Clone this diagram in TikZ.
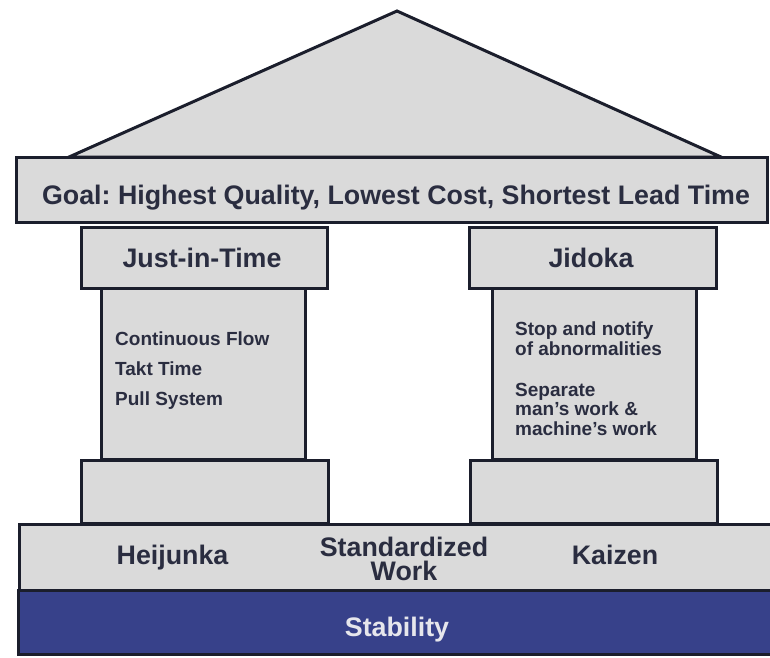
\documentclass[tikz,border=0pt]{standalone}
\usepackage{fontspec}
\setmainfont{Liberation Sans}
\frenchspacing
\definecolor{boxfill}{HTML}{DADADA}
\definecolor{edge}{HTML}{1B1E2C}
\definecolor{stab}{HTML}{37418A}
\definecolor{ink}{HTML}{2A2D40}
\definecolor{stabtext}{HTML}{E6E6EC}
\begin{document}
\begin{tikzpicture}[x=1pt,y=-1pt,
  part/.style={draw=edge, fill=boxfill, line width=3pt, inner sep=0pt, outer sep=0pt},
  big/.style={font=\bfseries\fontsize{26.8}{24}\selectfont, text=ink, inner sep=0pt, anchor=base},
  small/.style={font=\bfseries\fontsize{19}{19.5}\selectfont, text=ink, inner sep=0pt, align=left, anchor=base west}]
\useasboundingbox (0,0) rectangle (770,657);
\clip (0,0) rectangle (770,657);
% roof
\coordinate (roofL) at (69,157);
\coordinate (apex) at (397,11);
\coordinate (roofR) at (721,157);
\draw[part, line join=miter] (roofL) -- (apex) -- (roofR) -- cycle;
% goal bar
\node[part, minimum width=750.5pt, minimum height=65pt] (goal) at (391.75,189.5) {};
% shafts
\node[part, minimum width=203.5pt, minimum height=171pt] (lshaft) at (203.25,373.5) {};
\node[part, minimum width=204pt, minimum height=171pt] (rshaft) at (594,373.5) {};
% capitals
\node[part, minimum width=245.5pt, minimum height=60.5pt] (jitcap) at (204.25,257.75) {};
\node[part, minimum width=247.5pt, minimum height=60.5pt] (jidcap) at (592.75,257.75) {};
% lower bar and stability
\node[part, minimum width=760.5pt, minimum height=66pt] (lower) at (399.75,557) {};
\node[part, fill=stab, minimum width=762pt, minimum height=64pt] (stab) at (399,622) {};
% bases
\node[part, minimum width=247pt, minimum height=63pt] (lbase) at (205,491.5) {};
\node[part, minimum width=247.5pt, minimum height=63pt] (rbase) at (593.75,491.5) {};
% texts
\node[big] (goalt) at (396,204) {Goal: Highest Quality, Lowest Cost, Shortest Lead Time};
\node[big] (jitt) at (202,267) {Just-in-Time};
\node[big] (jidt) at (591,267) {Jidoka};
\node[small] (l1) at (115,345) {Continuous Flow};
\node[small] (l2) at (115,375.5) {Takt Time};
\node[small] (r1) at (515,355) {Stop and notify\\of abnormalities};
\node[small] (l3) at (115,405) {Pull System};
\node[small] (r2) at (515,435) {Separate\\man’s work \&\\machine’s work};
\node[big] (heit) at (172.5,564) {Heijunka};
\node[big, align=center] (stdt) at (404,580.5) {Standardized\\Work};
\node[big] (kait) at (615,564) {Kaizen};
\node[big, text=stabtext] (stabt) at (397,636.5) {Stability};
\end{tikzpicture}
\end{document}
